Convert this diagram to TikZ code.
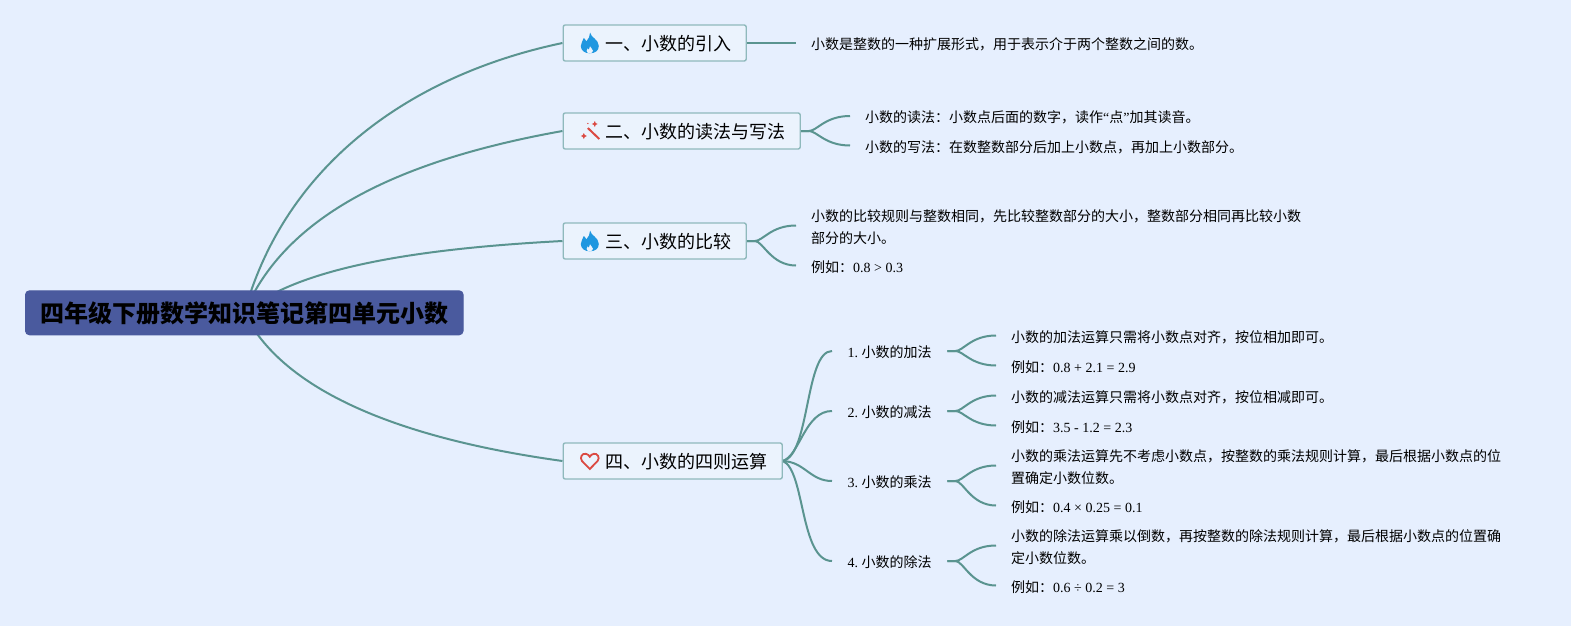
\documentclass[tikz,border=0pt]{standalone}
\usepackage{fontspec}
\setmainfont{Liberation Serif}
\newfontfamily\cjk{Noto Sans CJK SC}
\usetikzlibrary{backgrounds}
\frenchspacing
\newcommand{\zh}[1]{{\cjk #1}}
\newcommand{\toprule}{\rule{0pt}{18pt}}
\newcommand{\botrule}{\rule[-4pt]{0pt}{4pt}}

\definecolor{pagebg}{HTML}{E6EFFE}
\definecolor{branchcol}{HTML}{5A9490}
\definecolor{boxline}{HTML}{8FB9BC}
\definecolor{boxfill}{HTML}{EBF3FD}
\definecolor{rootfill}{HTML}{4A5A9E}
\definecolor{flamecol}{HTML}{1F97E0}
\definecolor{redcol}{HTML}{DB4A42}

\tikzset{
  rootbox/.style={draw=rootfill,fill=rootfill,rounded corners=4,line width=1,anchor=west,minimum height=44,inner xsep=14.8,text height=22,text depth=2.8,font=\fontsize{24}{30}\selectfont\cjk\bfseries},
  headbox/.style={draw=boxline,fill=boxfill,rounded corners=2,line width=1.4,anchor=west,minimum height=36,inner xsep=15,text height=17,text depth=2.4,font=\fontsize{18}{24}\selectfont\cjk},
  subnode/.style={anchor=west,inner xsep=15.5,inner ysep=0,font=\fontsize{14}{22}\selectfont,text height=15,text depth=2},
  leafnode/.style={anchor=west,inner xsep=15,inner ysep=0,font=\fontsize{14}{22}\selectfont,align=left,text height=15,text depth=2},
  leaflong/.style={anchor=west,inner xsep=15,inner ysep=0,font=\fontsize{14}{22}\selectfont,align=left},
  branch/.style={draw=branchcol,line width=2},
  fork/.style={branch,to path={-- ++(8,0) .. controls +(8,0) and +(-25,0) .. (\tikztotarget)}},
  flame/.pic={
    \fill[flamecol] (0.3,-10.4) .. controls (1,-5.5) and (9,-3.5) .. (9,3) .. controls (9,8) and (5,10.3) .. (0,10.3)
      .. controls (-5,10.3) and (-9,7.5) .. (-9,3) .. controls (-9,-0.5) and (-6.5,-2.5) .. (-6,-5)
      .. controls (-4.5,-3.8) and (-3.8,-2.5) .. (-3.5,-1.5) .. controls (-1.5,-4) and (0.5,-7) .. (0.3,-10.4) -- cycle;
    \fill[boxfill,shift={(0,2.6)},scale=.75] (0.3,1) .. controls (1,3.5) and (4.2,4.5) .. (4.2,7) .. controls (4.2,8.8) and (2,10.3) .. (0,10.3)
      .. controls (-2.5,10.3) and (-4.2,8.8) .. (-4.2,7) .. controls (-4.2,5.5) and (-3.2,4.8) .. (-2.8,3.8)
      .. controls (-2,4.5) and (-1.5,5) .. (-1.2,5.5) .. controls (-0.3,4) and (0.4,2.5) .. (0.3,1) -- cycle;
  },
  wand/.pic={
    \draw[redcol,line width=2] (-2,-3) -- (9.5,8);
    \fill[redcol] (-6,2) -- (-5,4) -- (-3,5) -- (-5,6) -- (-6,8) -- (-7,6) -- (-9,5) -- (-7,4) -- cycle;
    \fill[redcol] (5,-10) -- (5.9,-8) -- (7.9,-7) -- (5.9,-6) -- (5,-4) -- (4.1,-6) -- (2.1,-7) -- (4.1,-8) -- cycle;
    \fill[redcol] (-2,-7.5) circle (0.7);
  },
  heart/.pic={
    \draw[redcol,line width=1.8] (0,8) -- (-7.8,0) .. controls (-10.5,-3.5) and (-7.5,-8) .. (-4,-7.2) .. controls (-2,-7) and (-0.8,-5.5) .. (0,-4.2)
      .. controls (0.8,-5.5) and (2,-7) .. (4,-7.2) .. controls (7.5,-8) and (10.5,-3.5) .. (7.8,0) -- cycle;
  }
}

\begin{document}
\begin{tikzpicture}[x=1pt,y=-1pt]
	\useasboundingbox (0,0) rectangle (1571,626);

	% root
	\node[rootbox] (root) at (25,312.8) {四年级下册数学知识笔记第四单元小数};

	% chapters
	\node[headbox] (intro) at (562.5,43) {\hspace*{27pt}一、小数的引入};
	\node[headbox] (rw) at (562.5,131) {\hspace*{27pt}二、小数的读法与写法};
	\node[headbox] (cmp) at (562.5,241) {\hspace*{27pt}三、小数的比较};
	\node[headbox] (calc) at (562.5,461) {\hspace*{27pt}四、小数的四则运算};

	\pic at ([xshift=27.3pt]intro.west) {flame};
	\pic at ([xshift=27.3pt]rw.west) {wand};
	\pic at ([xshift=27.3pt]cmp.west) {flame};
	\pic at ([xshift=27.3pt]calc.west) {heart};

	% first two chapters
	\node[leafnode] (introA) at (796,43) {\zh{小数是整数的一种扩展形式，用于表示介于两个整数之间的数。}};
	\node[leafnode] (rwA) at (850,116) {\zh{小数的读法：小数点后面的数字，读作}“\zh{点}”\zh{加其读音。}};
	\node[leafnode] (rwB) at (850,145.5) {\zh{小数的写法：在数整数部分后加上小数点，再加上小数部分。}};

	% compare
	\node[leaflong] (cmpA) at (796,225.5) {\toprule\zh{小数的比较规则与整数相同，先比较整数部分的大小，整数部分相同再比较小数}\\\zh{部分的大小。}\botrule};
	\node[leafnode] (cmpB) at (796,265.5) {\zh{例如：}0.8 > 0.3};

	% four operations
	\node[subnode] (add) at (832,351) {1. \zh{小数的加法}};
	\node[subnode] (sub) at (832,411) {2. \zh{小数的减法}};
	\node[subnode] (mul) at (832,481) {3. \zh{小数的乘法}};
	\node[subnode] (div) at (832,561) {4. \zh{小数的除法}};

	\node[leafnode] (addA) at (996,335.5) {\zh{小数的加法运算只需将小数点对齐，按位相加即可。}};
	\node[leafnode] (addB) at (996,365.5) {\zh{例如：}0.8 + 2.1 = 2.9};
	\node[leafnode] (subA) at (996,395.5) {\zh{小数的减法运算只需将小数点对齐，按位相减即可。}};
	\node[leafnode] (subB) at (996,425.5) {\zh{例如：}3.5 - 1.2 = 2.3};
	\node[leaflong] (mulA) at (996,465.5) {\toprule\zh{小数的乘法运算先不考虑小数点，按整数的乘法规则计算，最后根据小数点的位}\\\zh{置确定小数位数。}\botrule};
	\node[leafnode] (mulB) at (996,505.5) {\zh{例如：}0.4 × 0.25 = 0.1};
	\node[leaflong] (divA) at (996,545.5) {\toprule\zh{小数的除法运算乘以倒数，再按整数的除法规则计算，最后根据小数点的位置确}\\\zh{定小数位数。}\botrule};
	\node[leafnode] (divB) at (996,585.5) {\zh{例如：}0.6 ÷ 0.2 = 3};

	\begin{scope}[on background layer]
		\fill[pagebg] (0,0) rectangle (1571,626);

		% root to chapters
		\draw[branch] (root.center) .. controls (285,165) and (410,75) .. (intro.west);
		\draw[branch] (root.center) .. controls (285,215) and (400,160) .. (rw.west);
		\draw[branch] (root.center) .. controls (300,265) and (430,248) .. (cmp.west);
		\draw[branch] (root.center) .. controls (285,395) and (410,440) .. (calc.west);

		% chapters to leaves
		\draw[branch] (intro.east) -- (introA.west);
		\draw[fork] (rw.east) to (rwA.west);
		\draw[fork] (rw.east) to (rwB.west);
		\draw[fork] (cmp.east) to (cmpA.west);
		\draw[fork] (cmp.east) to (cmpB.west);

		% operations
		\draw[branch] (calc.east) .. controls (810,455) and (805,351) .. (add.west);
		\draw[branch] (calc.east) .. controls (800,455) and (805,411) .. (sub.west);
		\draw[branch] (calc.east) .. controls (805,462) and (810,481) .. (mul.west);
		\draw[branch] (calc.east) .. controls (805,470) and (800,561) .. (div.west);

		\draw[fork] (add.east) to (addA.west);
		\draw[fork] (add.east) to (addB.west);
		\draw[fork] (sub.east) to (subA.west);
		\draw[fork] (sub.east) to (subB.west);
		\draw[fork] (mul.east) to (mulA.west);
		\draw[fork] (mul.east) to (mulB.west);
		\draw[fork] (div.east) to (divA.west);
		\draw[fork] (div.east) to (divB.west);
	\end{scope}
\end{tikzpicture}
\end{document}
